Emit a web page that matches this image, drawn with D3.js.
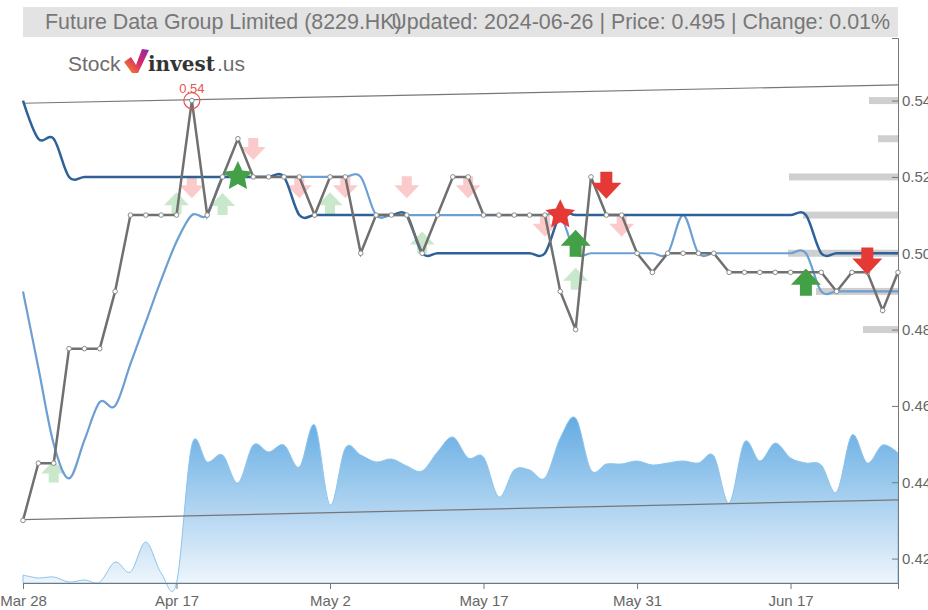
<!DOCTYPE html>
<html>
<head>
<meta charset="utf-8">
<title>Future Data Group Limited (8229.HK)</title>
<script src="https://cdn.jsdelivr.net/npm/d3@7"></script>
<style>
  body { margin: 0; background: #fff; }
  svg { display: block; font-family: "Liberation Sans", Arial, sans-serif; }
  .axis text { fill: #666; font-size: 15px; }
  .axis path, .axis line { stroke: #777; }
</style>
</head>
<body>
<svg width="928" height="610"></svg>
<script>

// ---- data (one entry per trading day) ----
var tickIdx = [0, 10, 20, 30, 40, 50];
var tickLabels = ["Mar 28", "Apr 17", "May 2", "May 17", "May 31", "Jun 17"];
var priceTicks = [0.42, 0.44, 0.46, 0.48, 0.50, 0.52, 0.54];

var price = [0.43, 0.445, 0.445, 0.475, 0.475, 0.475, 0.49, 0.51, 0.51, 0.51,
  0.51, 0.54, 0.51, 0.52, 0.53, 0.52, 0.52, 0.52, 0.52, 0.51,
  0.52, 0.52, 0.50, 0.51, 0.51, 0.51, 0.50, 0.51, 0.52, 0.52,
  0.51, 0.51, 0.51, 0.51, 0.51, 0.49, 0.48, 0.52, 0.51, 0.51,
  0.50, 0.495, 0.50, 0.50, 0.50, 0.50, 0.495, 0.495, 0.495, 0.495,
  0.495, 0.495, 0.495, 0.49, 0.495, 0.495, 0.485, 0.495];

var maShort = [0.54, 0.53, 0.53, 0.52, 0.52, 0.52, 0.52, 0.52, 0.52, 0.52,
  0.52, 0.52, 0.52, 0.52, 0.52, 0.52, 0.52, 0.52, 0.51, 0.51,
  0.51, 0.51, 0.51, 0.51, 0.51, 0.51, 0.50, 0.50, 0.50, 0.50,
  0.50, 0.50, 0.50, 0.50, 0.50, 0.51, 0.51, 0.51, 0.51, 0.51,
  0.51, 0.51, 0.51, 0.51, 0.51, 0.51, 0.51, 0.51, 0.51, 0.51,
  0.51, 0.51, 0.50, 0.50, 0.50, 0.50, 0.50, 0.50];

var maLong = [0.49, 0.470, 0.450, 0.441, 0.451, 0.461, 0.460, 0.471, 0.482, 0.493,
  0.503, 0.51, 0.51, 0.52, 0.52, 0.52, 0.52, 0.52, 0.52, 0.52,
  0.52, 0.52, 0.52, 0.51, 0.51, 0.51, 0.51, 0.51, 0.51, 0.51,
  0.51, 0.51, 0.51, 0.51, 0.51, 0.51, 0.50, 0.50, 0.50, 0.50,
  0.50, 0.50, 0.50, 0.51, 0.50, 0.50, 0.50, 0.50, 0.50, 0.50,
  0.50, 0.50, 0.49, 0.49, 0.49, 0.49, 0.49, 0.49];

var volume = [8000, 5000, 6000, 1000, 3000, 1000, 21000, 11000, 41000, 10000,
  0, 138000, 121000, 128000, 100000, 138000, 131000, 138000, 116000, 158000,
  78000, 135000, 128000, 121000, 124000, 117000, 112000, 131000, 146000, 125000,
  126000, 86000, 113000, 113000, 105000, 145000, 165000, 113000, 119000, 119000,
  122000, 118000, 120000, 122000, 120000, 127000, 80000, 141000, 122000, 140000,
  125000, 120000, 118000, 91000, 148000, 120000, 138000, 130000];

var levelPrice = [0.54, 0.53, 0.52, 0.51, 0.50, 0.49, 0.48];
var levelVolume = [290000, 200000, 1090000, 950000, 1100000, 820000, 350000];

var trendIdx = [0, 57];
var trendHigh = [0.5393, 0.5441];
var trendLow = [0.4302, 0.4354];

var sigIdx  = [2, 10, 11, 13, 15, 18, 20, 21, 25, 26, 29, 34, 36, 39, 14, 35, 36, 38, 51, 55];
var sigVal  = [0.4428, 0.5131, 0.5173, 0.5129, 0.5273, 0.5173, 0.5131, 0.5173, 0.5173, 0.5028,
  0.5173, 0.5072, 0.4933, 0.5072, 0.5205, 0.5105, 0.5026, 0.5178, 0.4924, 0.4980];
var sigType = ["upLight", "upLight", "downLight", "upLight", "downLight", "downLight", "upLight",
  "downLight", "downLight", "upLight", "downLight", "downLight", "upLight", "downLight",
  "starGreen", "starRed", "up", "down", "up", "down"];

var title = "Future Data Group Limited (8229.HK)";
var subtitle = "Updated: 2024-06-26 | Price: 0.495 | Change: 0.01%";

// ---- chart ----
var svg = d3.select("svg");
var plotLeft = 23, plotRight = 898, plotTop = 38, plotBottom = 583;

var x = d3.scaleLinear().domain([0, price.length - 1]).range([plotLeft, plotRight]);
var y = d3.scaleLinear().domain([0.4136, 0.5564]).range([plotBottom, plotTop]);
var yVol = d3.scaleLinear().domain([0, 545000]).range([plotBottom, plotTop]);
var levelW = d3.scaleLinear().domain([0, 1100000]).range([0, 110]);

var defs = svg.append("defs");
var grad = defs.append("linearGradient")
    .attr("id", "volGrad")
    .attr("gradientUnits", "userSpaceOnUse")
    .attr("x1", 0).attr("x2", 0)
    .attr("y1", yVol(d3.max(volume))).attr("y2", plotBottom);
grad.append("stop").attr("offset", "0%").attr("stop-color", "#64ace3");
grad.append("stop").attr("offset", "100%").attr("stop-color", "#eef5fc");

// title bar
svg.append("rect")
    .attr("x", plotLeft).attr("y", 7)
    .attr("width", plotRight - plotLeft).attr("height", 30)
    .attr("fill", "#e3e3e3");
svg.append("text")
    .attr("x", 45).attr("y", 29)
    .attr("font-size", 21.4).attr("fill", "#777")
    .text(title);
svg.append("text")
    .attr("x", 890).attr("y", 29)
    .attr("text-anchor", "end")
    .attr("font-size", 21.4).attr("fill", "#777")
    .text(subtitle);

// logo
var logo = svg.append("g").attr("transform", "translate(68,71)");
logo.append("text").attr("font-size", 21).attr("fill", "#6d6d6d").text("Stock");
var mark = defs.append("linearGradient").attr("id", "markGrad")
    .attr("x1", 0).attr("y1", 1).attr("x2", 1).attr("y2", 0);
mark.append("stop").attr("offset", "0%").attr("stop-color", "#f7941d");
mark.append("stop").attr("offset", "55%").attr("stop-color", "#d6246e");
mark.append("stop").attr("offset", "100%").attr("stop-color", "#8e2aa8");
logo.append("path")
    .attr("d", "M56,-9 L63,-14 L68,-6 L74,-22 L81,-21 L70,2 L64,2 Z")
    .attr("fill", "url(#markGrad)");
logo.append("text").attr("x", 80).attr("font-size", 20)
    .attr("font-family", "'DejaVu Serif', serif").attr("font-weight", "bold")
    .attr("fill", "#333").text("invest");
logo.append("text").attr("x", 149).attr("font-size", 21).attr("fill", "#6d6d6d").text(".us");

// volume area
var volArea = d3.area()
    .x(function(d, i) { return x(i); })
    .y0(yVol(0))
    .y1(function(d) { return yVol(d); })
    .curve(d3.curveCardinal);
svg.append("path")
    .datum(volume)
    .attr("d", volArea)
    .attr("fill", "url(#volGrad)")
    .attr("stroke", "#8cc4ec")
    .attr("stroke-width", 1);

// volume at price levels
svg.append("g").selectAll("rect")
    .data(levelPrice)
    .enter().append("rect")
    .attr("x", function(d, i) { return plotRight - levelW(levelVolume[i]); })
    .attr("y", function(d) { return y(d) - 3.5; })
    .attr("width", function(d, i) { return levelW(levelVolume[i]); })
    .attr("height", 7)
    .attr("fill", "#cfcfcf");

// axes
svg.append("g")
    .attr("class", "axis")
    .attr("transform", "translate(0," + plotBottom + ")")
    .call(d3.axisBottom(x)
        .tickValues(tickIdx)
        .tickFormat(function(d, i) { return tickLabels[i]; })
        .tickSize(6).tickPadding(6));

svg.append("g")
    .attr("class", "axis")
    .attr("transform", "translate(" + plotRight + ",0)")
    .call(d3.axisRight(y)
        .tickValues(priceTicks)
        .tickFormat(d3.format(".2f"))
        .tickSizeInner(-6).tickSizeOuter(-6).tickPadding(4));

// trend lines
var trend = d3.line()
    .x(function(d, i) { return x(trendIdx[i]); })
    .y(function(d) { return y(d); });
[trendHigh, trendLow].forEach(function(t) {
  svg.append("path").datum(t).attr("d", trend)
      .attr("fill", "none").attr("stroke", "#777").attr("stroke-width", 1.2);
});

// markers
function arrowPath(w, h, head, shaft) {
  var t = -h / 2, m = -h / 2 + head, b = h / 2;
  return "M0," + t + "L" + (w / 2) + "," + m + "L" + (shaft / 2) + "," + m +
    "L" + (shaft / 2) + "," + b + "L" + (-shaft / 2) + "," + b +
    "L" + (-shaft / 2) + "," + m + "L" + (-w / 2) + "," + m + "Z";
}
function starPath(outer, inner) {
  var pts = d3.range(10).map(function(k) {
    var r = k % 2 ? inner : outer, a = Math.PI * k / 5;
    return [r * Math.sin(a), -r * Math.cos(a) + 1.5];
  });
  return "M" + pts.join("L") + "Z";
}
var bigArrow = arrowPath(30, 27, 16, 12);
var smallArrow = arrowPath(25, 22, 13, 10);
var star = starPath(15.5, 7.5);

var sigStyle = {
  upLight:   { d: smallArrow, flip: false, fill: "#4caf50", op: 0.3, layer: 0 },
  downLight: { d: smallArrow, flip: true,  fill: "#ef5350", op: 0.3, layer: 0 },
  up:        { d: bigArrow,   flip: false, fill: "#43a047", op: 1, layer: 1 },
  down:      { d: bigArrow,   flip: true,  fill: "#e53935", op: 1, layer: 1 },
  starGreen: { d: star,       flip: false, fill: "#43a047", op: 1, layer: 1 },
  starRed:   { d: star,       flip: false, fill: "#e53935", op: 1, layer: 1 }
};

function drawSignals(layer) {
  sigIdx.forEach(function(s, i) {
    var st = sigStyle[sigType[i]];
    if (st.layer !== layer) return;
    svg.append("path")
        .attr("d", st.d)
        .attr("transform", "translate(" + x(s) + "," + y(sigVal[i]) + ")" + (st.flip ? " scale(1,-1)" : ""))
        .attr("fill", st.fill)
        .attr("fill-opacity", st.op);
  });
}
drawSignals(0);

// moving averages
var smooth = d3.line()
    .x(function(d, i) { return x(i); })
    .y(function(d) { return y(d); })
    .curve(d3.curveCardinal);
svg.append("path").datum(maLong).attr("d", smooth)
    .attr("fill", "none").attr("stroke", "#6c9fd3").attr("stroke-width", 2.2);
svg.append("path").datum(maShort).attr("d", smooth)
    .attr("fill", "none").attr("stroke", "#2f6199").attr("stroke-width", 2.5);

// price
var priceLine = d3.line()
    .x(function(d, i) { return x(i); })
    .y(function(d) { return y(d); });
svg.append("path").datum(price).attr("d", priceLine)
    .attr("fill", "none").attr("stroke", "#707070").attr("stroke-width", 2.5);
svg.append("g").selectAll("circle")
    .data(price)
    .enter().append("circle")
    .attr("cx", function(d, i) { return x(i); })
    .attr("cy", function(d) { return y(d); })
    .attr("r", 2.3)
    .attr("fill", "#fff")
    .attr("stroke", "#8a8a8a")
    .attr("stroke-width", 1);

drawSignals(1);

// high marker
var hi = d3.maxIndex(price);
svg.append("circle")
    .attr("cx", x(hi)).attr("cy", y(price[hi])).attr("r", 8)
    .attr("fill", "none").attr("stroke", "#e8554e").attr("stroke-width", 1.2);
svg.append("text")
    .attr("x", x(hi)).attr("y", y(price[hi]) - 8)
    .attr("text-anchor", "middle")
    .attr("font-size", 13).attr("fill", "#e8554e")
    .text(d3.format(".2f")(price[hi]));

</script>
</body>
</html>
